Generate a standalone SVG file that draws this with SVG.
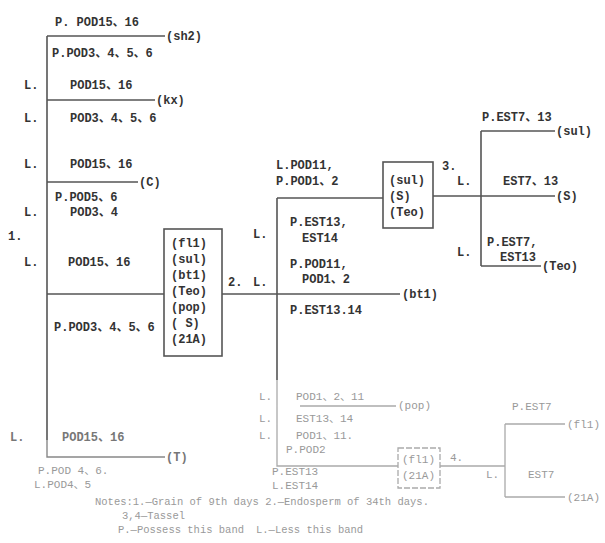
<svg xmlns="http://www.w3.org/2000/svg" width="605" height="543" viewBox="0 0 605 543">
<style>
text{font-family:"Liberation Mono","Noto Sans CJK SC",monospace;font-size:12px;fill:#333;font-weight:bold}
.f1 text{fill:#777}
.f2 text{fill:#999;font-weight:normal;font-size:11px}
.n text{fill:#999;font-weight:normal;font-size:10.5px}
.ln{stroke:#555;stroke-width:1.6;fill:none}
.lf{stroke:#888;stroke-width:1.4;fill:none}
.lg{stroke:#aaa;stroke-width:1.3;fill:none}
.box{fill:#fff;stroke:#555;stroke-width:1.6}
</style>
<rect width="605" height="543" fill="#fff"/>
<g id="connectors">
<path class="ln" d="M47,36V440M47,36H165M47,100H155M47,182H138M47,294H164M222,294H400"/>
<path class="lf" d="M47,440V457H165"/>
<path class="ln" d="M277,198V380M277,198H383M433,196H555M481,131V266M481,131H555M481,266H541"/>
<path class="lg" d="M277,380V466H398M300,406H396M440,466H505M505,424V497M505,424H565M505,497H565"/>
</g>
<g id="box1">
<rect class="box" x="164" y="229" width="58" height="127"/>
<text x="171" y="247">(fl1)</text>
<text x="171" y="263">(sul)</text>
<text x="171" y="279">(bt1)</text>
<text x="171" y="295">(Teo)</text>
<text x="171" y="311">(pop)</text>
<text x="171" y="327">( S)</text>
<text x="171" y="343">(21A)</text>
</g>
<g id="box2">
<rect class="box" x="383" y="162" width="50" height="66"/>
<text x="389" y="184">(sul)</text>
<text x="389" y="200">(S)</text>
<text x="389" y="216">(Teo)</text>
</g>
<g id="box3" class="f2">
<rect x="398" y="448" width="42" height="40" fill="#fff" stroke="#aaa" stroke-width="1.3" stroke-dasharray="6,2"/>
<text x="402" y="463">(fl1)</text>
<text x="402" y="479">(21A)</text>
</g>
<g id="labels-left">
<text x="55" y="26">P. POD15、16</text>
<text x="166" y="40">(sh2)</text>
<text x="52" y="57">P.POD3、4、5、6</text>
<text x="24" y="89">L.</text><text x="70" y="89">POD15、16</text>
<text x="156" y="104">(kx)</text>
<text x="24" y="122">L.</text><text x="70" y="122">POD3、4、5、6</text>
<text x="24" y="168">L.</text><text x="70" y="168">POD15、16</text>
<text x="139" y="186">(C)</text>
<text x="55" y="201">P.POD5、6</text>
<text x="24" y="216">L.</text><text x="70" y="216">POD3、4</text>
<text x="8" y="240">1.</text>
<text x="24" y="266">L.</text><text x="68" y="266">POD15、16</text>
<text x="54" y="331">P.POD3、4、5、6</text>
</g>
<g id="labels-left-bottom" class="f1">
<text x="10" y="441">L.</text><text x="62" y="441">POD15、16</text>
<text x="166" y="461">(T)</text>
</g>
<g id="labels-left-bottom2" class="f2">
<text x="38" y="474">P.POD 4、6.</text>
<text x="34" y="488">L.POD4、5</text>
</g>
<g id="labels-mid">
<text x="228" y="286">2.</text>
<text x="253" y="286">L.</text>
<text x="276" y="169">L.POD11,</text>
<text x="276" y="185">P.POD1、2</text>
<text x="253" y="238">L.</text>
<text x="290" y="226">P.EST13,</text>
<text x="302" y="242">EST14</text>
<text x="290" y="268">P.POD11,</text>
<text x="302" y="283">POD1、2</text>
<text x="402" y="298">(bt1)</text>
<text x="290" y="314">P.EST13.14</text>
</g>
<g id="labels-mid-bottom" class="f2">
<text x="259" y="400">L.</text><text x="296" y="400">POD1、2、11</text>
<text x="398" y="409">(pop)</text>
<text x="259" y="422">L.</text><text x="296" y="422">EST13、14</text>
<text x="259" y="439">L.</text><text x="296" y="439">POD1、11.</text>
<text x="286" y="453">P.POD2</text>
<text x="272" y="475">P.EST13</text>
<text x="272" y="489">L.EST14</text>
</g>
<g id="labels-right">
<text x="442" y="170">3.</text>
<text x="482" y="121">P.EST7、13</text>
<text x="556" y="135">(sul)</text>
<text x="457" y="185">L.</text><text x="503" y="185">EST7、13</text>
<text x="556" y="200">(S)</text>
<text x="457" y="256">L.</text>
<text x="487" y="246">P.EST7,</text>
<text x="500" y="261">EST13</text>
<text x="542" y="270">(Teo)</text>
</g>
<g id="labels-right-bottom" class="f2">
<text x="450" y="461">4.</text>
<text x="512" y="410">P.EST7</text>
<text x="567" y="428">(fl1)</text>
<text x="486" y="478">L.</text><text x="528" y="478">EST7</text>
<text x="567" y="501">(21A)</text>
</g>
<g id="notes" class="n">
<text x="95" y="505">Notes:1.—Grain of  9th days 2.—Endosperm of 34th days.</text>
<text x="122" y="519">3,4—Tassel</text>
<text x="118" y="533">P.—Possess this band</text>
<text x="256" y="533">L.—Less this band</text>
</g>
</svg>
